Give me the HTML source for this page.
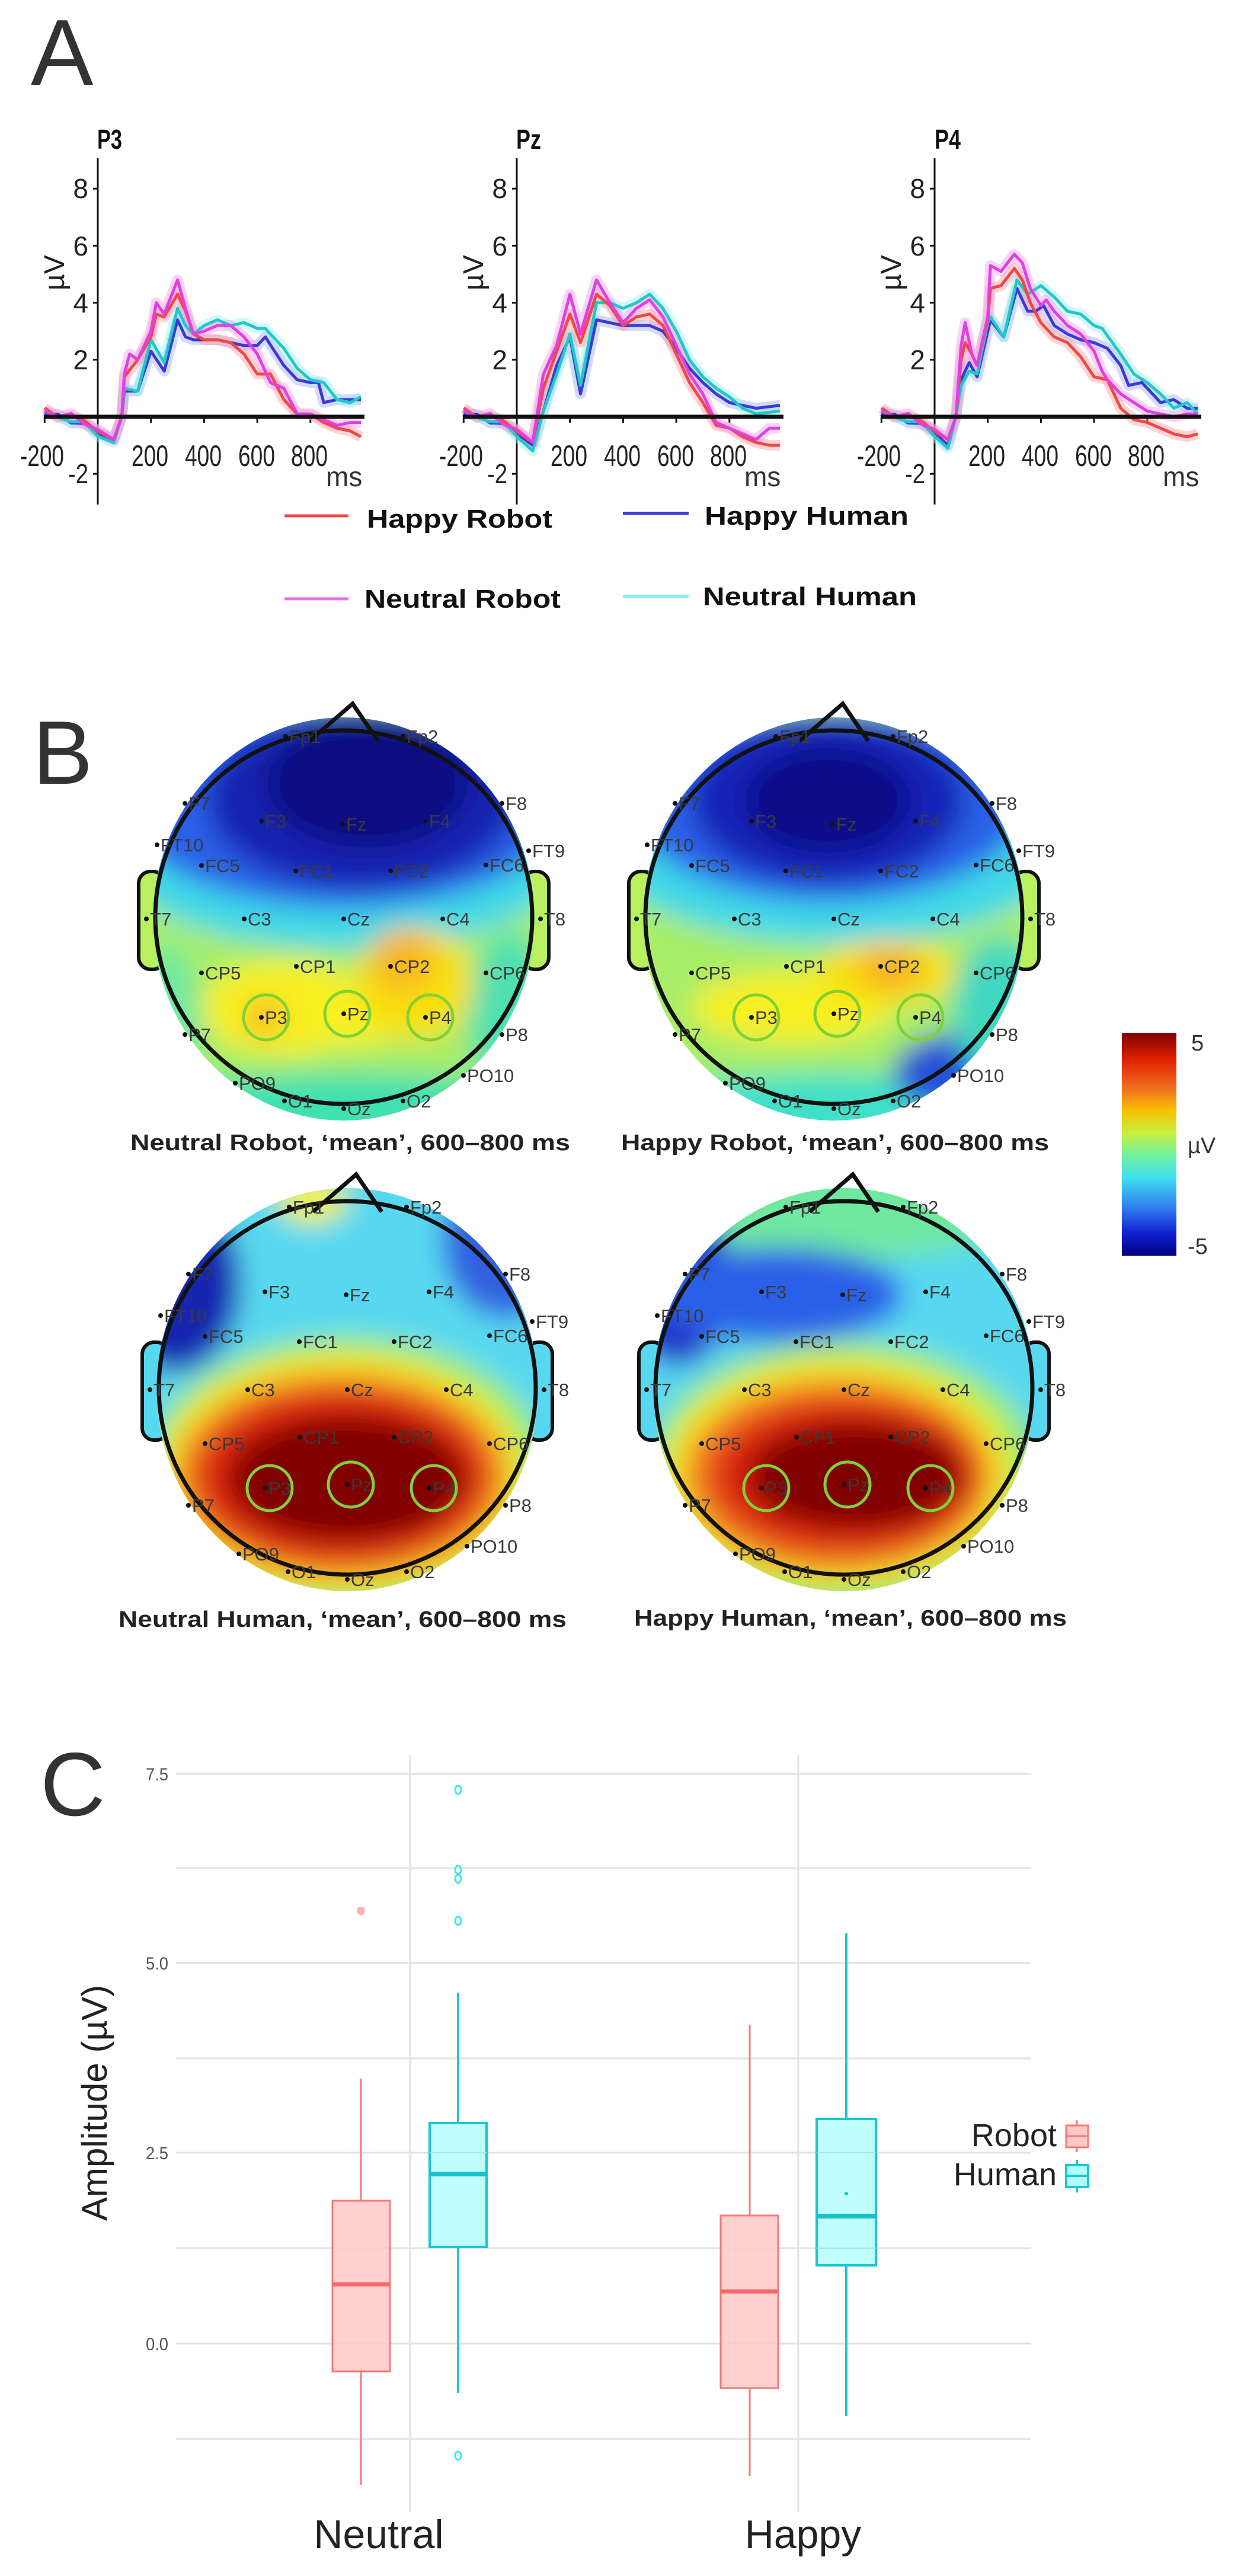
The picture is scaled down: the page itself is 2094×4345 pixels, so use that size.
<!DOCTYPE html>
<html><head><meta charset="utf-8">
<style>
html,body{margin:0;padding:0;background:#fff;}
svg{display:block;}
.nar{font-family:"Liberation Sans Narrow","Liberation Sans",sans-serif;}
.sans{font-family:"Liberation Sans",sans-serif;}
</style></head>
<body>
<svg id="s" width="2094" height="4345" viewBox="0 0 2094 4345" xmlns="http://www.w3.org/2000/svg">
<defs>
<filter id="bl" x="-30%" y="-30%" width="160%" height="160%"><feGaussianBlur stdDeviation="22"/></filter>
<clipPath id="hc"><ellipse cx="0" cy="0" rx="322" ry="340"/></clipPath>
<linearGradient id="cb" x1="0" y1="0" x2="0" y2="1">
<stop offset="0" stop-color="#800000"/><stop offset="0.12" stop-color="#e02000"/><stop offset="0.25" stop-color="#f07020"/>
<stop offset="0.35" stop-color="#f8c000"/><stop offset="0.45" stop-color="#c8f040"/><stop offset="0.55" stop-color="#70f0a0"/>
<stop offset="0.65" stop-color="#40e0f0"/><stop offset="0.78" stop-color="#3080f0"/><stop offset="0.9" stop-color="#1020d0"/><stop offset="1" stop-color="#000080"/>
</linearGradient>
<g id="el" class="nar" font-size="31" fill="#3a3a3a">
<g fill="#111"><circle cx="-98" cy="-308" r="4"/><circle cx="100" cy="-308" r="4"/><circle cx="-268" cy="-195" r="4"/><circle cx="-139" cy="-165" r="4"/><circle cx="-2" cy="-160" r="4"/><circle cx="138" cy="-165" r="4"/><circle cx="267" cy="-195" r="4"/><circle cx="-315" cy="-125" r="4"/><circle cx="312" cy="-115" r="4"/><circle cx="-240" cy="-90" r="4"/><circle cx="-81" cy="-81" r="4"/><circle cx="79" cy="-81" r="4"/><circle cx="240" cy="-91" r="4"/><circle cx="-333" cy="0" r="4"/><circle cx="-168" cy="0" r="4"/><circle cx="0" cy="0" r="4"/><circle cx="167" cy="0" r="4"/><circle cx="332" cy="0" r="4"/><circle cx="-240" cy="91" r="4"/><circle cx="-80" cy="80" r="4"/><circle cx="79" cy="80" r="4"/><circle cx="240" cy="91" r="4"/><circle cx="-268" cy="195" r="4"/><circle cx="-139" cy="166" r="4"/><circle cx="0" cy="160" r="4"/><circle cx="138" cy="166" r="4"/><circle cx="267" cy="195" r="4"/><circle cx="-183" cy="277" r="4"/><circle cx="202" cy="264" r="4"/><circle cx="-100" cy="307" r="4"/><circle cx="0" cy="320" r="4"/><circle cx="100" cy="307" r="4"/></g>
<text x="-92" y="-297">Fp1</text><text x="106" y="-297">Fp2</text><text x="-262" y="-184">F7</text><text x="-133" y="-154">F3</text><text x="4" y="-149">Fz</text><text x="144" y="-154">F4</text><text x="273" y="-184">F8</text><text x="-309" y="-114">FT10</text><text x="318" y="-104">FT9</text><text x="-234" y="-79">FC5</text><text x="-75" y="-70">FC1</text><text x="85" y="-70">FC2</text><text x="246" y="-80">FC6</text><text x="-327" y="11">T7</text><text x="-162" y="11">C3</text><text x="6" y="11">Cz</text><text x="173" y="11">C4</text><text x="338" y="11">T8</text><text x="-234" y="102">CP5</text><text x="-74" y="91">CP1</text><text x="85" y="91">CP2</text><text x="246" y="102">CP6</text><text x="-262" y="206">P7</text><text x="-133" y="177">P3</text><text x="6" y="171">Pz</text><text x="144" y="177">P4</text><text x="273" y="206">P8</text><text x="-177" y="288">PO9</text><text x="208" y="275">PO10</text><text x="-94" y="318">O1</text><text x="6" y="331">Oz</text><text x="106" y="318">O2</text>
</g>
<g id="ears" stroke="#111" stroke-width="6">
<rect x="-346" y="-80" width="44" height="165" rx="20"/>
<rect x="302" y="-80" width="44" height="165" rx="20"/>
</g>
<g id="hd" fill="none" stroke="#111" stroke-width="7">
<ellipse cx="0" cy="-3" rx="318" ry="315"/>
<path d="M-58,-300 L15,-363 L58,-300" />
</g>
<g id="gc" fill="none" stroke="#80d038" stroke-width="5"><circle cx="-131" cy="166" r="38"/><circle cx="6" cy="160" r="38"/><circle cx="146" cy="166" r="38"/></g>
</defs>

<!-- Section letters -->
<text x="52" y="143" class="sans" font-size="158" fill="#333">A</text>
<text x="55" y="1322" class="sans" font-size="152" fill="#333">B</text>
<text x="68" y="3062" class="sans" font-size="152" fill="#333">C</text>

<!-- Panel A axes -->
<g id="pA"></g>
<g class="nar" font-weight="bold" font-size="46" fill="#111">
<text x="164" y="251" textLength="42" lengthAdjust="spacingAndGlyphs">P3</text><text x="871" y="251" textLength="42" lengthAdjust="spacingAndGlyphs">Pz</text><text x="1577" y="251" textLength="44" lengthAdjust="spacingAndGlyphs">P4</text>
</g>
<g class="nar" font-size="46" fill="#222" text-anchor="end">
<g transform="translate(165,0)"><text x="-16" y="334">8</text><text x="-16" y="431">6</text><text x="-16" y="527">4</text><text x="-16" y="623">2</text><text x="-16" y="815" textLength="34" lengthAdjust="spacingAndGlyphs">-2</text></g>
<g transform="translate(872,0)"><text x="-16" y="334">8</text><text x="-16" y="431">6</text><text x="-16" y="527">4</text><text x="-16" y="623">2</text><text x="-16" y="815" textLength="34" lengthAdjust="spacingAndGlyphs">-2</text></g>
<g transform="translate(1577,0)"><text x="-16" y="334">8</text><text x="-16" y="431">6</text><text x="-16" y="527">4</text><text x="-16" y="623">2</text><text x="-16" y="815" textLength="34" lengthAdjust="spacingAndGlyphs">-2</text></g>
</g>
<g class="nar" font-size="50" fill="#222">
<g transform="translate(165,0)"><text x="-131" y="786" textLength="74" lengthAdjust="spacingAndGlyphs">-200</text><text x="57" y="786" textLength="62" lengthAdjust="spacingAndGlyphs">200</text><text x="147" y="786" textLength="62" lengthAdjust="spacingAndGlyphs">400</text><text x="237" y="786" textLength="62" lengthAdjust="spacingAndGlyphs">600</text><text x="326" y="786" textLength="62" lengthAdjust="spacingAndGlyphs">800</text></g>
<g transform="translate(872,0)"><text x="-131" y="786" textLength="74" lengthAdjust="spacingAndGlyphs">-200</text><text x="57" y="786" textLength="62" lengthAdjust="spacingAndGlyphs">200</text><text x="147" y="786" textLength="62" lengthAdjust="spacingAndGlyphs">400</text><text x="237" y="786" textLength="62" lengthAdjust="spacingAndGlyphs">600</text><text x="326" y="786" textLength="62" lengthAdjust="spacingAndGlyphs">800</text></g>
<g transform="translate(1577,0)"><text x="-131" y="786" textLength="74" lengthAdjust="spacingAndGlyphs">-200</text><text x="57" y="786" textLength="62" lengthAdjust="spacingAndGlyphs">200</text><text x="147" y="786" textLength="62" lengthAdjust="spacingAndGlyphs">400</text><text x="237" y="786" textLength="62" lengthAdjust="spacingAndGlyphs">600</text><text x="326" y="786" textLength="62" lengthAdjust="spacingAndGlyphs">800</text></g>
</g>
<g class="sans" font-size="48" fill="#222" text-anchor="middle">
<text x="0" y="0" transform="translate(108,460) rotate(-90)">µV</text>
<text x="0" y="0" transform="translate(815,460) rotate(-90)">µV</text>
<text x="0" y="0" transform="translate(1520,460) rotate(-90)">µV</text>
</g>
<g class="sans" font-size="46" fill="#333"><text x="550" y="820">ms</text><text x="1256" y="820">ms</text><text x="1962" y="820">ms</text></g>

<!-- Legend A -->
<g stroke-width="5">
<line x1="480" y1="870" x2="588" y2="870" stroke="#f04848"/>
<line x1="1051" y1="866" x2="1162" y2="866" stroke="#3a3ad8"/>
<line x1="480" y1="1010" x2="588" y2="1010" stroke="#ea70ea"/>
<line x1="1051" y1="1006" x2="1162" y2="1006" stroke="#80f0f0"/>
</g>
<g class="sans" font-weight="bold" font-size="44" fill="#111">
<text x="619" y="890" textLength="313" lengthAdjust="spacingAndGlyphs">Happy Robot</text>
<text x="1189" y="885" textLength="344" lengthAdjust="spacingAndGlyphs">Happy Human</text>
<text x="615" y="1025" textLength="331" lengthAdjust="spacingAndGlyphs">Neutral Robot</text>
<text x="1186" y="1021" textLength="361" lengthAdjust="spacingAndGlyphs">Neutral Human</text>
</g>

<!-- Section B heads -->
<g transform="translate(580,1550)">
<use href="#ears" fill="#b8f060"/>
<g clip-path="url(#hc)"><g filter="url(#bl)">
<rect x="-400" y="-400" width="800" height="800" fill="#a8ee68"/>
<ellipse cx="0" cy="340" rx="420" ry="80" fill="#40e0b0"/>
<ellipse cx="-300" cy="200" rx="60" ry="160" fill="#70e8a0"/>
<ellipse cx="280" cy="160" rx="70" ry="140" fill="#50e0b0"/>
<ellipse cx="0" cy="-100" rx="380" ry="150" fill="#40d8e8"/>
<ellipse cx="0" cy="-190" rx="370" ry="170" fill="#2a60e8"/>
<ellipse cx="30" cy="-200" rx="260" ry="150" fill="#1520b0"/>
<ellipse cx="40" cy="-230" rx="170" ry="110" fill="#080a80"/>
<ellipse cx="-100" cy="150" rx="140" ry="80" fill="#f8f020"/>
<ellipse cx="20" cy="160" rx="90" ry="55" fill="#f8f020"/>
<ellipse cx="120" cy="110" rx="100" ry="95" fill="#f8e010"/>
<ellipse cx="100" cy="70" rx="55" ry="55" fill="#f8b820"/>
<ellipse cx="-135" cy="166" rx="35" ry="35" fill="#f8c020"/>
</g></g>
<use href="#hd"/><use href="#el"/><use href="#gc"/>
</g>
<g transform="translate(1407,1550)">
<use href="#ears" fill="#b8f060"/>
<g clip-path="url(#hc)"><g filter="url(#bl)">
<rect x="-400" y="-400" width="800" height="800" fill="#a8ee68"/>
<ellipse cx="0" cy="340" rx="420" ry="80" fill="#40e0c8"/>
<ellipse cx="230" cy="260" rx="130" ry="70" fill="#2850d8"/>
<ellipse cx="280" cy="150" rx="80" ry="120" fill="#40d8c0"/>
<ellipse cx="0" cy="-110" rx="380" ry="150" fill="#40d8e8"/>
<ellipse cx="-10" cy="-190" rx="330" ry="160" fill="#2a60e8"/>
<ellipse cx="-10" cy="-200" rx="230" ry="140" fill="#1520b8"/>
<ellipse cx="-10" cy="-200" rx="140" ry="90" fill="#080a88"/>
<ellipse cx="-70" cy="150" rx="170" ry="60" fill="#f8f020"/>
<ellipse cx="90" cy="90" rx="120" ry="55" fill="#f8e010"/>
<ellipse cx="95" cy="85" rx="55" ry="35" fill="#f8b020"/>
</g></g>
<use href="#hd"/><use href="#el"/><use href="#gc"/>
</g>
<g transform="translate(586,2344)">
<use href="#ears" fill="#58d8f0"/>
<g clip-path="url(#hc)"><g filter="url(#bl)">
<rect x="-400" y="-400" width="800" height="800" fill="#58d8f0"/>
<ellipse cx="-290" cy="-180" rx="110" ry="150" fill="#1828b0"/>
<ellipse cx="270" cy="-250" rx="110" ry="130" fill="#3060e0"/>
<ellipse cx="-60" cy="-320" rx="60" ry="40" fill="#f0f040"/>
<ellipse cx="0" cy="300" rx="380" ry="80" fill="#40e0b0"/>
<ellipse cx="0" cy="140" rx="340" ry="230" fill="#a0f060"/>
<ellipse cx="-10" cy="140" rx="305" ry="200" fill="#f8e020"/>
<ellipse cx="-10" cy="145" rx="275" ry="170" fill="#f07020"/>
<ellipse cx="-10" cy="145" rx="240" ry="140" fill="#d82010"/>
<ellipse cx="0" cy="150" rx="200" ry="105" fill="#800000"/>
</g></g>
<use href="#hd"/><use href="#el"/><use href="#gc"/>
</g>
<g transform="translate(1424,2344)">
<use href="#ears" fill="#58d8f0"/>
<g clip-path="url(#hc)"><g filter="url(#bl)">
<rect x="-400" y="-400" width="800" height="800" fill="#58d8f0"/>
<ellipse cx="0" cy="-300" rx="300" ry="80" fill="#70e8a0"/>
<ellipse cx="-280" cy="-180" rx="90" ry="140" fill="#2030c8"/>
<ellipse cx="-110" cy="-160" rx="210" ry="80" fill="#2a60e8"/>
<ellipse cx="300" cy="200" rx="60" ry="140" fill="#3050e0"/>
<ellipse cx="0" cy="320" rx="360" ry="70" fill="#40e0b0"/>
<ellipse cx="0" cy="140" rx="330" ry="220" fill="#a0f060"/>
<ellipse cx="-10" cy="140" rx="290" ry="190" fill="#f8e020"/>
<ellipse cx="-10" cy="145" rx="255" ry="160" fill="#f07020"/>
<ellipse cx="0" cy="145" rx="220" ry="125" fill="#d82010"/>
<ellipse cx="20" cy="145" rx="180" ry="90" fill="#800000"/>
</g></g>
<use href="#hd"/><use href="#el"/><use href="#gc"/>
</g>
<g class="sans" font-weight="bold" font-size="38" fill="#222">
<text x="220" y="1940" textLength="742" lengthAdjust="spacingAndGlyphs">Neutral  Robot, ‘mean’, 600–800 ms</text>
<text x="1048" y="1940" textLength="722" lengthAdjust="spacingAndGlyphs">Happy Robot, ‘mean’, 600–800 ms</text>
<text x="200" y="2744" textLength="756" lengthAdjust="spacingAndGlyphs">Neutral  Human, ‘mean’, 600–800 ms</text>
<text x="1070" y="2742" textLength="730" lengthAdjust="spacingAndGlyphs">Happy Human, ‘mean’, 600–800 ms</text>
</g>
<rect x="1893" y="1742" width="92" height="376" fill="url(#cb)"/>
<g class="sans" font-size="38" fill="#333"><text x="2010" y="1772">5</text><text x="2004" y="1945">µV</text><text x="2004" y="2115">-5</text></g>

<!-- Section C -->
<g stroke="#e2e2e2" stroke-width="3">
<line x1="297" y1="2992" x2="1740" y2="2992"/><line x1="297" y1="3151" x2="1740" y2="3151"/><line x1="297" y1="3311" x2="1740" y2="3311"/><line x1="297" y1="3472" x2="1740" y2="3472"/><line x1="297" y1="3631" x2="1740" y2="3631"/><line x1="297" y1="3792" x2="1740" y2="3792"/><line x1="297" y1="3953" x2="1740" y2="3953"/><line x1="297" y1="4114" x2="1740" y2="4114"/>
<line x1="692" y1="2960" x2="692" y2="4237"/><line x1="1347" y1="2960" x2="1347" y2="4237"/>
</g>
<g class="nar" font-size="30" fill="#555" text-anchor="end">
<text x="284" y="3003" textLength="38" lengthAdjust="spacingAndGlyphs">7.5</text><text x="284" y="3322" textLength="38" lengthAdjust="spacingAndGlyphs">5.0</text><text x="284" y="3642" textLength="38" lengthAdjust="spacingAndGlyphs">2.5</text><text x="284" y="3964" textLength="38" lengthAdjust="spacingAndGlyphs">0.0</text>
</g>
<text x="0" y="0" transform="translate(180,3547) rotate(-90)" class="sans" font-size="60" fill="#222" text-anchor="middle">Amplitude (µV)</text>
<g class="sans" font-size="68" fill="#222" text-anchor="middle"><text x="639" y="4298">Neutral</text><text x="1355" y="4298">Happy</text></g>
<g stroke="#f87878" stroke-width="3" fill="#ffc8c8" fill-opacity="0.85">
<line x1="609" y1="3506" x2="609" y2="3712"/><line x1="609" y1="4000" x2="609" y2="4191"/>
<rect x="561" y="3712" width="97" height="288"/>
<line x1="1265" y1="3415" x2="1265" y2="3737"/><line x1="1265" y1="4028" x2="1265" y2="4176"/>
<rect x="1216" y="3737" width="97" height="291"/>
</g>
<g stroke="#f86868" stroke-width="7"><line x1="561" y1="3853" x2="658" y2="3853"/><line x1="1216" y1="3865" x2="1313" y2="3865"/></g>
<circle cx="609" cy="3223" r="7" fill="#ffb0b0"/>
<g stroke="#18c8d0" stroke-width="4" fill="#b0ffff" fill-opacity="0.8">
<line x1="773" y1="3361" x2="773" y2="3581"/><line x1="773" y1="3790" x2="773" y2="4036"/>
<rect x="725" y="3581" width="96" height="209"/>
<line x1="1428" y1="3261" x2="1428" y2="3574"/><line x1="1428" y1="3821" x2="1428" y2="4075"/>
<rect x="1378" y="3574" width="100" height="247"/>
</g>
<g stroke="#18c0c8" stroke-width="8"><line x1="725" y1="3667" x2="821" y2="3667"/><line x1="1378" y1="3738" x2="1478" y2="3738"/></g>
<g stroke="#a0e8e8" stroke-width="2"><line x1="725" y1="3631" x2="821" y2="3631"/><line x1="1378" y1="3631" x2="1478" y2="3631"/><line x1="1378" y1="3792" x2="1478" y2="3792"/></g>
<circle cx="1428" cy="3700" r="3" fill="#18c0c8"/>
<g fill="none" stroke="#40e8f0" stroke-width="3"><ellipse cx="773" cy="3019" rx="5" ry="7"/><ellipse cx="773" cy="3154" rx="5" ry="7"/><ellipse cx="773" cy="3169" rx="5" ry="7"/><ellipse cx="773" cy="3240" rx="5" ry="7"/><ellipse cx="773" cy="4142" rx="5" ry="7"/></g>
<g class="sans" font-size="54" fill="#222" text-anchor="end"><text x="1783" y="3620">Robot</text><text x="1783" y="3686">Human</text></g>
<g stroke="#f87878" stroke-width="3" fill="#ffc8c8"><line x1="1817" y1="3576" x2="1817" y2="3630"/><rect x="1799" y="3585" width="37" height="37"/><line x1="1799" y1="3603" x2="1836" y2="3603"/></g>
<g stroke="#18c8d0" stroke-width="4" fill="#b0ffff"><line x1="1817" y1="3643" x2="1817" y2="3698"/><rect x="1799" y="3652" width="37" height="37"/><line x1="1799" y1="3670" x2="1836" y2="3670"/></g>
</svg>
<script>
(function(){
var NS="http://www.w3.org/2000/svg",g=document.getElementById("pA");
var axes=[165,872,1577];
var pre={r:[[-200,0.2],[-150,0.1],[-100,0],[-50,-0.2],[0,-0.4]],b:[[-200,0.1],[-150,0],[-100,-0.1],[-50,-0.3],[0,-0.6]]};
var D=[
{R:[[60,-0.8],[90,0],[100,1.4],[150,2.0],[200,2.8],[220,3.6],[250,3.5],[300,4.3],[330,3.7],[360,2.9],[400,2.7],[450,2.7],[500,2.6],[550,2.2],[600,1.5],[650,1.5],[700,0.6],[750,0.1],[800,0.1],[850,-0.2],[900,-0.4],[950,-0.5],[990,-0.7]],
 M:[[60,-0.8],[90,0],[100,1.5],[120,2.2],[150,2.0],[200,3.0],[220,4.0],[250,3.6],[300,4.8],[330,3.8],[360,2.9],[400,3.0],[450,3.2],[500,3.2],[550,2.8],[600,2.2],[650,1.2],[700,1.0],[750,0.1],[800,0.1],[850,-0.1],[900,-0.3],[950,-0.2],[990,-0.2]],
 B:[[60,-0.8],[90,0],[100,0.9],[150,0.9],[200,2.3],[250,1.6],[300,3.4],[330,2.8],[360,2.7],[400,2.7],[450,2.7],[500,2.6],[550,2.5],[600,2.5],[630,2.8],[700,1.8],[750,1.3],[800,1.2],[830,1.2],[850,0.5],[900,0.6],[990,0.6]],
 C:[[60,-0.9],[90,0],[100,1.0],[150,0.9],[200,2.7],[250,1.9],[300,3.8],[330,3.2],[360,2.9],[400,3.2],[450,3.4],[500,3.2],[550,3.3],[600,3.1],[630,3.1],[700,2.4],[750,1.7],[800,1.3],[850,1.2],[900,0.6],[950,0.5],[990,0.7]]},
{R:[[60,-0.9],[100,1.0],[150,2.3],[200,3.6],[240,2.6],[300,4.3],[350,3.9],[400,3.2],[450,3.5],[500,3.6],[550,3.2],[600,2.2],[650,1.2],[700,0.5],[750,-0.3],[800,-0.4],[850,-0.7],[900,-0.9],[950,-1.0],[990,-1.0]],
 M:[[60,-0.9],[100,1.5],[150,2.5],[200,4.3],[240,2.9],[300,4.8],[350,4.0],[400,3.3],[450,3.8],[500,4.1],[550,3.5],[600,2.5],[650,1.5],[700,0.8],[750,-0.2],[800,-0.4],[850,-0.6],[900,-0.8],[950,-0.4],[990,-0.4]],
 B:[[60,-1.0],[100,0.2],[150,1.8],[200,2.8],[240,0.8],[300,3.4],[350,3.3],[400,3.2],[500,3.2],[550,3.0],[600,2.4],[650,1.7],[700,1.2],[750,0.8],[800,0.5],[850,0.4],[900,0.3],[990,0.4]],
 C:[[60,-1.2],[100,0.2],[150,1.5],[200,2.9],[240,1.1],[300,4.0],[350,4.0],[400,3.8],[450,4.0],[500,4.3],[550,3.8],[600,3.0],[650,2.0],[700,1.4],[750,1.0],[800,0.7],[850,0.3],[900,0.1],[990,0.2]]},
{R:[[50,-0.8],[80,0],[100,2.0],[115,2.6],[140,2.2],[160,1.8],[200,3.4],[210,4.5],[250,4.6],[300,5.2],[330,4.8],[360,4.0],[400,3.3],[450,2.8],[500,2.6],[550,2.1],[600,1.4],[650,1.3],[700,0.3],[750,-0.1],[800,-0.2],[850,-0.4],[900,-0.6],[950,-0.7],[990,-0.6]],
 M:[[50,-0.8],[80,0],[100,2.5],[115,3.3],[140,2.2],[160,1.8],[200,3.5],[210,5.3],[250,5.1],[300,5.7],[330,5.4],[360,4.5],[400,3.9],[420,4.1],[450,3.7],[500,3.2],[550,2.9],[600,2.3],[630,1.6],[650,1.3],[700,0.8],[750,0.5],[800,0.2],[850,0.1],[900,0.0],[950,0.1],[990,0.1]],
 B:[[50,-1.0],[80,0],[100,1.3],[130,1.9],[160,1.4],[200,3.0],[210,3.4],[260,2.8],[310,4.5],[350,3.7],[380,3.7],[410,3.9],[450,3.2],[500,2.9],[550,2.7],[600,2.6],[650,2.4],[700,1.8],[730,1.1],[780,1.2],[850,0.5],[900,0.6],[950,0.3],[990,0.3]],
 C:[[50,-1.1],[80,0],[100,1.1],[130,1.6],[160,1.5],[200,3.3],[210,3.5],[260,2.8],[310,4.8],[350,4.3],[400,4.6],[450,4.2],[500,3.7],[550,3.6],[600,3.2],[630,3.1],[700,2.2],[750,1.5],[800,1.2],[850,0.8],[900,0.3],[950,0.5],[990,0.1]]}
];
var col={R:"#f04848",M:"#e040e0",B:"#3a3ad8",C:"#20c8c8"};
var band={R:"#f8a0a0",M:"#f0a0f0",B:"#a8a8f0",C:"#a0f0f0"};
function el(t,a){var e=document.createElementNS(NS,t);for(var k in a)e.setAttribute(k,a[k]);g.appendChild(e);return e;}
function pts(ax,i,k,j){var p=(k=="R"||k=="M")?pre.r:pre.b;return p.concat(D[i][k]).map(function(q,n){var w=(n<5)?Math.sin(n*2.3+j)*0.12:0;return (ax+q[0]*0.4485).toFixed(1)+","+(703-(q[1]+w)*48.1).toFixed(1);}).join(" ");}
axes.forEach(function(ax,i){
 el("line",{x1:ax,y1:267,x2:ax,y2:851,stroke:"#111","stroke-width":3});
 for(var v=-2;v<=8;v+=2){if(v)el("line",{x1:ax-8,y1:703-v*48.1,x2:ax,y2:703-v*48.1,stroke:"#111","stroke-width":3});}
 for(var m=-200;m<=800;m+=200){if(m)el("line",{x1:ax+m*0.4485,y1:703,x2:ax+m*0.4485,y2:713,stroke:"#111","stroke-width":3});}
 ["B","C","R","M"].forEach(function(k,j){el("polyline",{points:pts(ax,i,k,j),fill:"none",stroke:band[k],"stroke-width":18,"stroke-opacity":0.45,"stroke-linejoin":"round"});});
 ["B","C","R","M"].forEach(function(k,j){el("polyline",{points:pts(ax,i,k,j),fill:"none",stroke:col[k],"stroke-width":5,"stroke-linejoin":"round"});});
 el("line",{x1:ax-91,y1:703,x2:ax+450,y2:703,stroke:"#111","stroke-width":7});
});
})();
</script>
</body></html>
